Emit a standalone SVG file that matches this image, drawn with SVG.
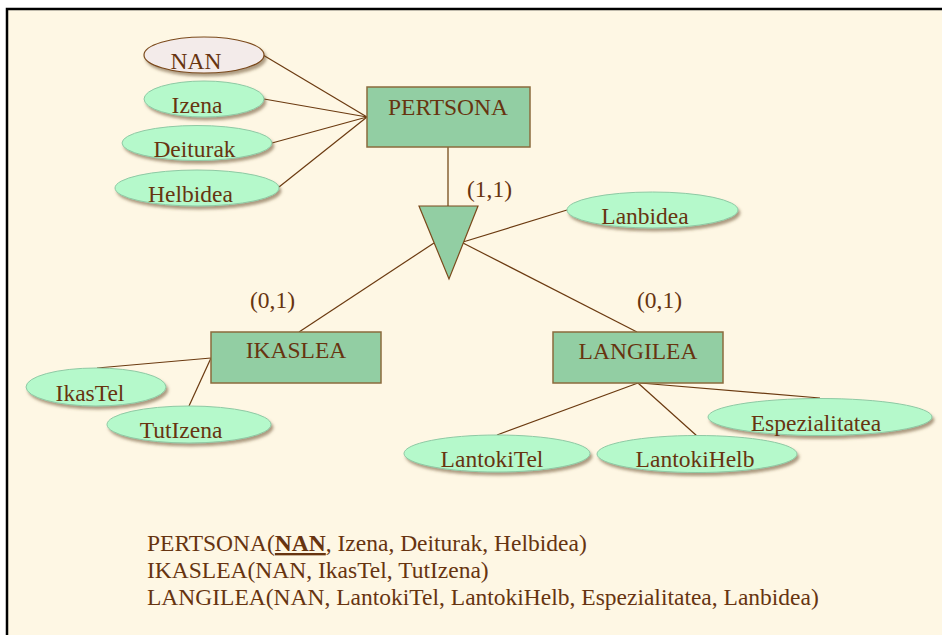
<svg xmlns="http://www.w3.org/2000/svg" width="942" height="635" viewBox="0 0 942 635">
  <defs>
    <filter id="shadow" x="-10%" y="-20%" width="125%" height="160%">
      <feDropShadow dx="2" dy="3" stdDeviation="1.6" flood-color="#6b5030" flood-opacity="0.55"/>
    </filter>
    <style>
      text { font-family: "Liberation Serif", "Times New Roman", serif; font-size: 23.5px; fill: #673410; }
      .lbl { text-anchor: middle; }
      .attr { fill: #b5f9cb; stroke: #8fc9a4; stroke-width: 1; filter: url(#shadow); }
      .key { fill: #f3ebea; stroke: #7b4a1c; stroke-width: 1.2; filter: url(#shadow); }
      .ent { fill: #92cea3; stroke: #8b6b3d; stroke-width: 1.5; }
      .wire { stroke: #6b3a10; stroke-width: 1.2; fill: none; }
    </style>
  </defs>

  <!-- page background and frame -->
  <rect x="0" y="0" width="942" height="635" fill="#ffffff"/>
  <rect x="7" y="9" width="935" height="626" fill="#fef7e4"/>
  <path d="M7 635 V9 H942" fill="none" stroke="#000000" stroke-width="2.5"/>

  <!-- connectors -->
  <g id="connectors">
    <line class="wire" x1="263" y1="55" x2="367" y2="117"/>
    <line class="wire" x1="264" y1="99" x2="367" y2="117"/>
    <line class="wire" x1="272" y1="143" x2="367" y2="117"/>
    <line class="wire" x1="279" y1="187" x2="367" y2="117"/>
    <line x1="448" y1="147" x2="448" y2="206" stroke="#a58760" stroke-width="2"/>
    <line class="wire" x1="463" y1="242" x2="567" y2="210"/>
    <line class="wire" x1="434" y1="243" x2="299" y2="332"/>
    <line class="wire" x1="463" y1="243" x2="637" y2="332"/>
    <line class="wire" x1="211" y1="358" x2="97" y2="368"/>
    <line class="wire" x1="211" y1="358" x2="189" y2="406"/>
    <line class="wire" x1="638" y1="383" x2="497" y2="435"/>
    <line class="wire" x1="638" y1="383" x2="697" y2="436"/>
    <line class="wire" x1="640" y1="383" x2="820" y2="398"/>
  </g>

  <!-- cardinalities -->
  <text x="467" y="197">(1,1)</text>
  <text x="250" y="308">(0,1)</text>
  <text x="637" y="308">(0,1)</text>

  <!-- PERTSONA entity and its attributes -->
  <g id="pertsona">
    <rect class="ent" x="367" y="87" width="163" height="60"/>
    <text class="lbl" x="448" y="115">PERTSONA</text>
  </g>
  <g id="nan">
    <ellipse class="key" cx="204" cy="55" rx="60" ry="18"/>
    <text class="lbl" x="196" y="69">NAN</text>
  </g>
  <g id="izena">
    <ellipse class="attr" cx="204" cy="99" rx="60" ry="18"/>
    <text class="lbl" x="197" y="113">Izena</text>
  </g>
  <g id="deiturak">
    <ellipse class="attr" cx="197" cy="143" rx="75" ry="17.5"/>
    <text class="lbl" x="194.5" y="157">Deiturak</text>
  </g>
  <g id="helbidea">
    <ellipse class="attr" cx="197" cy="188" rx="82" ry="18"/>
    <text class="lbl" x="190.5" y="202">Helbidea</text>
  </g>

  <!-- specialisation triangle -->
  <g id="isa">
    <polygon points="419,206 478,206 449,279" fill="#92cea3" stroke="#7b4a1c" stroke-width="1.2"/>
  </g>
  <g id="lanbidea">
    <ellipse class="attr" cx="652.5" cy="210" rx="85.5" ry="18"/>
    <text class="lbl" x="645" y="224">Lanbidea</text>
  </g>

  <!-- IKASLEA entity and its attributes -->
  <g id="ikaslea">
    <rect class="ent" x="211" y="332" width="170" height="51"/>
    <text class="lbl" x="296" y="358">IKASLEA</text>
  </g>
  <g id="ikastel">
    <ellipse class="attr" cx="96" cy="387" rx="70" ry="19"/>
    <text class="lbl" x="90" y="401">IkasTel</text>
  </g>
  <g id="tutizena">
    <ellipse class="attr" cx="189" cy="424.5" rx="82" ry="18.5"/>
    <text class="lbl" x="181" y="438">TutIzena</text>
  </g>

  <!-- LANGILEA entity and its attributes -->
  <g id="langilea">
    <rect class="ent" x="553" y="332" width="170" height="51"/>
    <text class="lbl" x="638" y="359">LANGILEA</text>
  </g>
  <g id="espezialitatea">
    <ellipse class="attr" cx="820" cy="417" rx="112" ry="18.5"/>
    <text class="lbl" x="816" y="431">Espezialitatea</text>
  </g>
  <g id="lantokitel">
    <ellipse class="attr" cx="497" cy="453.5" rx="93" ry="18.5"/>
    <text class="lbl" x="492" y="467">LantokiTel</text>
  </g>
  <g id="lantokihelb">
    <ellipse class="attr" cx="697" cy="454" rx="100" ry="18.5"/>
    <text class="lbl" x="695" y="467">LantokiHelb</text>
  </g>

  <!-- relational schema -->
  <text x="147" y="551">PERTSONA(<tspan font-weight="bold" text-decoration="underline">NAN</tspan>, Izena, Deiturak, Helbidea)</text>
  <text x="147" y="578">IKASLEA(NAN, IkasTel, TutIzena)</text>
  <text x="147" y="605">LANGILEA(NAN, LantokiTel, LantokiHelb, Espezialitatea, Lanbidea)</text>
</svg>
